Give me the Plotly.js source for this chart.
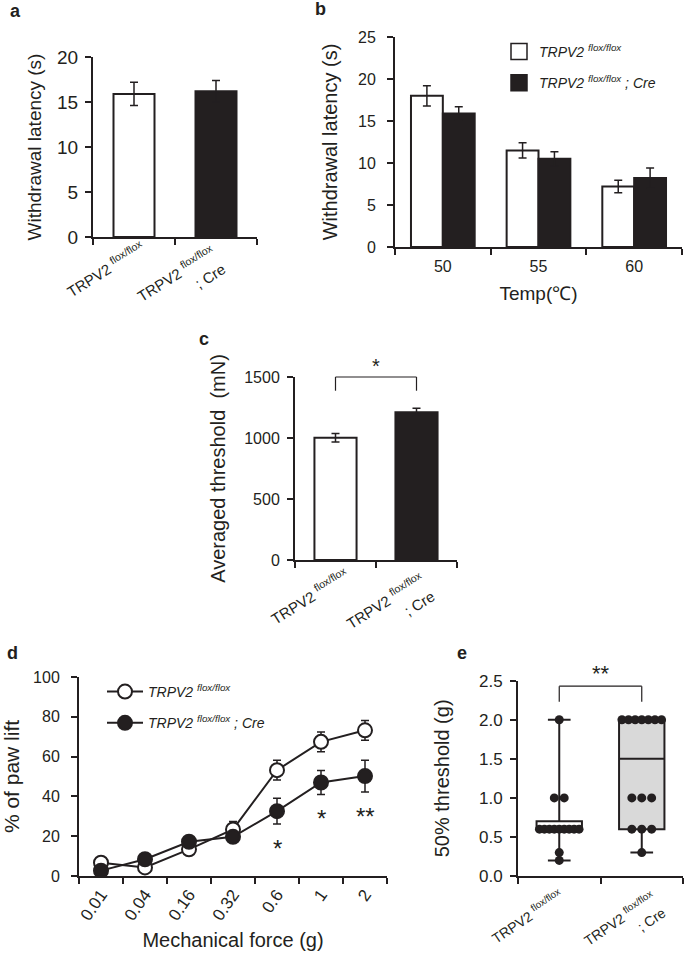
<!DOCTYPE html>
<html><head><meta charset="utf-8">
<script src="https://cdn.plot.ly/plotly-3.0.1.min.js"></script>
<style>html,body{margin:0;padding:0;background:#fff}#chart{width:685px;height:961px}</style>
</head><body><div id="chart"></div>
<script>
// ---------------- data ----------------
const genotypes = ['TRPV2 <sup>flox/flox</sup>', 'TRPV2 <sup>flox/flox</sup><br>; Cre'];
const legendNames = ['<i>TRPV2 <sup>flox/flox</sup></i>', '<i>TRPV2 <sup>flox/flox</sup> ; Cre</i>'];

// a: withdrawal latency (s)
const latencyA = [15.9, 16.2];
const latencyAErr = [1.3, 1.2];

// b: withdrawal latency by temperature
const temps = ['50', '55', '60'];
const latencyFlox = [18.0, 11.5, 7.2];
const latencyFloxErr = [1.2, 0.9, 0.75];
const latencyCre = [15.9, 10.5, 8.2];
const latencyCreErr = [0.8, 0.85, 1.2];

// c: averaged threshold (mN)
const thresholdC = [1002, 1211];
const thresholdCErr = [35, 32];
const sigC = '*';

// d: % of paw lift vs force
const forces = ['0.01', '0.04', '0.16', '0.32', '0.6', '1', '2'];
const liftFlox = [6.7, 4.3, 13.4, 23.4, 53.2, 67.4, 73.2];
const liftFloxErr = [1, 1, 1.5, 4, 5, 5, 5];
const liftCre = [2.7, 8.4, 17.2, 19.7, 32.6, 47.0, 50.2];
const liftCreErr = [1, 1, 2, 2, 6.5, 6, 8];
const sigD = ['', '', '', '', '*', '*', '**'];

// e: 50% threshold (g)
const thrFlox = [2.0, 1.0, 1.0, 0.6, 0.6, 0.6, 0.6, 0.6, 0.6, 0.6, 0.6, 0.6, 0.3, 0.2];
const thrCre = [2.0, 2.0, 2.0, 2.0, 2.0, 2.0, 2.0, 1.0, 1.0, 1.0, 0.6, 0.6, 0.6, 0.3];
const sigE = '**';

// ---------------- helpers ----------------
const W = 685, H = 961;
const INK = '#231f20';
const FONT = 'Liberation Sans, Arial, sans-serif';
const dx = (l, r) => [l / W, r / W];
const dy = (t, b) => [1 - b / H, 1 - t / H];

function quantile(arr, p) { // (n+1)p method
  const s = arr.slice().sort((a, b) => a - b);
  const n = s.length, pos = (n + 1) * p;
  const lo = Math.floor(pos), f = pos - lo;
  if (lo < 1) return s[0];
  if (lo >= n) return s[n - 1];
  return s[lo - 1] + f * (s[lo] - s[lo - 1]);
}
function swarmX(vals, center) {
  const counts = {}, seen = {};
  vals.forEach(v => counts[v] = (counts[v] || 0) + 1);
  return vals.map(v => {
    const n = counts[v], k = (seen[v] = (seen[v] || 0) + 1) - 1;
    const step = n > 1 ? Math.min(0.12, 0.48 / (n - 1)) : 0;
    return center + (k - (n - 1) / 2) * step;
  });
}
function ax(extra) {
  return Object.assign({
    showline: true, linecolor: INK, linewidth: 2, ticks: 'outside', ticklen: 6,
    tickwidth: 2, tickcolor: INK, showgrid: false, zeroline: false, fixedrange: true,
    tickfont: { size: 16, color: INK, family: FONT }
  }, extra);
}
const errStyle = arr => ({ type: 'data', array: arr, visible: true, color: INK, thickness: 1.5, width: 4 });

// ---------------- traces ----------------
const traces = [];
// a
traces.push({ type: 'bar', x: genotypes, y: latencyA, width: 0.5,
  marker: { color: ['#ffffff', INK], line: { color: INK, width: 2 } },
  error_y: errStyle(latencyAErr), xaxis: 'x', yaxis: 'y', showlegend: false });
// b
traces.push({ type: 'bar', x: temps, y: latencyFlox, offset: -0.333, width: 0.333,
  marker: { color: '#ffffff', line: { color: INK, width: 2 } },
  error_y: errStyle(latencyFloxErr), xaxis: 'x2', yaxis: 'y2', showlegend: false });
traces.push({ type: 'bar', x: temps, y: latencyCre, offset: 0, width: 0.333,
  marker: { color: INK, line: { color: INK, width: 2 } },
  error_y: errStyle(latencyCreErr), xaxis: 'x2', yaxis: 'y2', showlegend: false });
['#ffffff', INK].forEach((c, i) => traces.push({ type: 'scatter', mode: 'markers', x: [null], y: [null],
  name: legendNames[i], legend: 'legend', legendgroup: 'b' + i,
  marker: { symbol: 'square', size: 16, color: c, line: { color: INK, width: 1.5 } },
  xaxis: 'x2', yaxis: 'y2' }));
// c
traces.push({ type: 'bar', x: genotypes, y: thresholdC, width: 0.52,
  marker: { color: ['#ffffff', INK], line: { color: INK, width: 2 } },
  error_y: errStyle(thresholdCErr), xaxis: 'x3', yaxis: 'y3', showlegend: false });
// d
traces.push({ type: 'scatter', mode: 'lines+markers', x: forces, y: liftFlox, name: legendNames[0],
  legend: 'legend2', legendgroup: 'd0',
  line: { color: INK, width: 2 }, marker: { symbol: 'circle', size: 14, color: '#ffffff', line: { color: INK, width: 2 } },
  error_y: errStyle(liftFloxErr), xaxis: 'x4', yaxis: 'y4' });
traces.push({ type: 'scatter', mode: 'lines+markers', x: forces, y: liftCre, name: legendNames[1],
  legend: 'legend2', legendgroup: 'd1',
  line: { color: INK, width: 2 }, marker: { symbol: 'circle', size: 14, color: INK, line: { color: INK, width: 2 } },
  error_y: errStyle(liftCreErr), xaxis: 'x4', yaxis: 'y4' });
// e
[thrFlox, thrCre].forEach((vals, i) => traces.push({ type: 'box', x: [genotypes[i]],
  q1: [quantile(vals, 0.25)], median: [quantile(vals, 0.5)], q3: [quantile(vals, 0.75)],
  lowerfence: [Math.min(...vals)], upperfence: [Math.max(...vals)],
  width: 0.55, whiskerwidth: 0.5, boxpoints: false,
  fillcolor: i === 0 ? '#ffffff' : '#d9d9d9', line: { color: INK, width: 2 },
  xaxis: 'x5', yaxis: 'y5', showlegend: false }));
[thrFlox, thrCre].forEach((vals, i) => traces.push({ type: 'scatter', mode: 'markers',
  x: swarmX(vals, i), y: vals, marker: { size: 9, color: INK },
  xaxis: 'x6', yaxis: 'y5', showlegend: false }));

// ---------------- annotations & shapes ----------------
const panelLabel = (t, x, y) => ({ text: '<b>' + t + '</b>', xref: 'paper', yref: 'paper',
  x: x / W, y: 1 - y / H, xanchor: 'center', yanchor: 'middle', showarrow: false,
  font: { size: 18, color: INK, family: FONT } });
const annotations = [
  panelLabel('a', 15, 11), panelLabel('b', 320, 9), panelLabel('c', 204, 339),
  panelLabel('d', 12, 653), panelLabel('e', 462, 653),
  { text: sigC, xref: 'x3', yref: 'y3 domain', x: 0.5, y: 1.0, yanchor: 'bottom', yshift: -2, showarrow: false,
    font: { size: 20, color: INK, family: FONT } },
  { text: sigE, xref: 'x5', yref: 'y5', x: 0.5, y: 2.43, yanchor: 'bottom', yshift: -2, showarrow: false,
    font: { size: 22, color: INK, family: FONT } }
];
sigD.forEach((s, i) => { if (s) annotations.push({ text: s, xref: 'x4', yref: 'y4', x: i,
  y: liftCre[i] - liftCreErr[i], yanchor: 'top', yshift: -9, showarrow: false,
  font: { size: 24, color: INK, family: FONT } }); });

// rotated category labels (tick-label style) for panels a, c, e
function catLabels(xr, yr, angle, size, shifts) {
  genotypes.forEach((g, i) => {
    annotations.push({ text: g, xref: xr, yref: yr + ' domain', x: i, y: 0,
      xanchor: 'right', yanchor: 'top', align: 'right', textangle: angle, showarrow: false,
      xshift: shifts[i][0], yshift: shifts[i][1],
      font: { size: size, color: INK, family: FONT } });
  });
}
catLabels('x', 'y', -32, 15, [[17, 3], [16, -2]]);
catLabels('x3', 'y3', -32, 15, [[20, -1], [25, -6]]);
catLabels('x5', 'y5', -34, 14, [[10, -7], [29, -9]]);

const bracket = (xr, yr, top, leg) => [
  { type: 'line', xref: xr, yref: yr, x0: 0, x1: 1, y0: top, y1: top, line: { color: INK, width: 1.2 } },
  { type: 'line', xref: xr, yref: yr, x0: 0, x1: 0, y0: top, y1: leg, line: { color: INK, width: 1.2 } },
  { type: 'line', xref: xr, yref: yr, x0: 1, x1: 1, y0: top, y1: leg, line: { color: INK, width: 1.2 } }
];
const shapes = [...bracket('x3', 'y3 domain', 1.0, 0.925), ...bracket('x5', 'y5', 2.43, 2.23)];

// ---------------- layout ----------------
const catX = (dom, anchor, extra) => ax(Object.assign({ type: 'category', domain: dom, anchor: anchor, tickson: 'boundaries' }, extra));
const titleFont = s => ({ size: s, color: INK, family: FONT });
const layout = {
  width: W, height: H, margin: { l: 0, r: 0, t: 0, b: 0 },
  paper_bgcolor: '#ffffff', plot_bgcolor: 'rgba(0,0,0,0)',
  font: { family: FONT, color: INK }, barmode: 'overlay', showlegend: true,
  xaxis: catX(dx(93, 257), 'y', { range: [-0.5, 1.5], showticklabels: false }),
  yaxis: ax({ domain: dy(57, 237), anchor: 'x', range: [0, 20], dtick: 5, tickfont: { size: 19, color: INK }, ticklabelstandoff: 3,
    title: { text: 'Withdrawal latency (s)', font: titleFont(19), standoff: 10 } }),
  xaxis2: catX(dx(395, 682), 'y2', { range: [-0.5, 2.5], tickfont: { size: 16, color: INK }, ticklabelstandoff: 4,
    title: { text: 'Temp(℃)', font: titleFont(19), standoff: 12 } }),
  yaxis2: ax({ domain: dy(37, 247), anchor: 'x2', range: [0, 25], dtick: 5, ticklabelstandoff: 8,
    title: { text: 'Withdrawal latency (s)', font: titleFont(20), standoff: 15 } }),
  xaxis3: catX(dx(295, 457), 'y3', { range: [-0.5, 1.5], showticklabels: false }),
  yaxis3: ax({ domain: dy(377, 560), anchor: 'x3', range: [0, 1500], dtick: 500, ticklabelstandoff: 4,
    title: { text: 'Averaged threshold  (mN)', font: titleFont(20), standoff: 13 } }),
  xaxis4: catX(dx(79, 387), 'y4', { range: [-0.5, 6.5], tickangle: -55, tickfont: { size: 17, color: INK },
    title: { text: 'Mechanical force (g)', font: titleFont(20), standoff: 10 } }),
  yaxis4: ax({ domain: dy(677, 876), anchor: 'x4', range: [0, 100], dtick: 20, ticklabelstandoff: 8,
    title: { text: '% of paw lift', font: titleFont(21), standoff: 9 } }),
  xaxis5: catX(dx(518, 683), 'y5', { range: [-0.5, 1.5], showticklabels: false }),
  xaxis6: { overlaying: 'x5', domain: dx(518, 683), anchor: 'y5', range: [-0.5, 1.5], visible: false, fixedrange: true },
  yaxis5: ax({ domain: dy(680.7, 876), anchor: 'x5', range: [0, 2.5], dtick: 0.5, tickformat: '.1f',
    tickfont: { size: 17, color: INK }, ticklabelstandoff: 4,
    title: { text: '50% threshold (g)', font: titleFont(20), standoff: 24 } }),
  legend: { x: 499 / W, y: 1 - 36 / H, xanchor: 'left', yanchor: 'top', bgcolor: 'rgba(0,0,0,0)',
    font: { size: 14, color: INK, family: FONT }, tracegroupgap: 10, itemclick: false },
  legend2: { x: 102 / W, y: 1 - 676 / H, xanchor: 'left', yanchor: 'top', bgcolor: 'rgba(0,0,0,0)',
    font: { size: 14, color: INK, family: FONT }, tracegroupgap: 10, itemwidth: 36, itemclick: false },
  annotations: annotations, shapes: shapes
};
Plotly.newPlot('chart', traces, layout, { staticPlot: true, displayModeBar: false });
</script></body></html>
